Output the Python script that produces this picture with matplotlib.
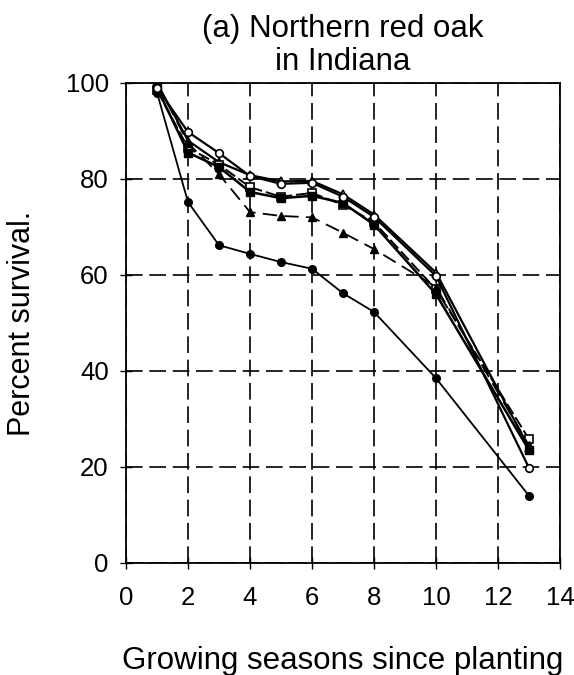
import matplotlib
matplotlib.use("Agg")
import matplotlib.pyplot as plt

plt.rcParams["font.family"] = ["Liberation Sans", "DejaVu Sans"]

seasons = [1, 2, 3, 4, 5, 6, 7, 8, 10, 13]
open_circle = [99, 89.8, 85.4, 80.6, 79, 79.2, 76.3, 72.1, 59.8, 19.8]
open_square = [98.5, 86.5, 83, 78.3, 76.3, 77.1, 74.6, 71, 57, 25.8]
filled_square = [99, 85.5, 82.5, 77.3, 76, 76.5, 75, 70.5, 56, 23.5]
filled_triangle = [100, 87.5, 81, 73.1, 72.3, 72, 68.8, 65.4, 57.5, 24.5]
open_triangle = [100, 88, 83.5, 80.8, 79.5, 79.6, 76.8, 72.6, 60.5, 24]
filled_circle = [98, 75.2, 66.2, 64.4, 62.7, 61.3, 56.2, 52.3, 38.5, 14]

xticks = [0, 2, 4, 6, 8, 10, 12, 14]
yticks = [0, 20, 40, 60, 80, 100]


def main():
    fig = plt.figure(figsize=(5.74, 6.75), dpi=100)
    ax = fig.add_axes([126 / 574, 1 - 563 / 675, 434 / 574, 480 / 675])

    ax.plot(seasons, open_circle, "-", color="black", lw=1.6, marker="o",
            ms=5.5, mfc="white", mec="black", mew=1.2, zorder=5)
    ax.plot(seasons, open_triangle, "-", color="black", lw=1.6, marker="^",
            ms=5.5, mfc="white", mec="black", mew=1.2, zorder=4)
    ax.plot(seasons, open_square, "--", color="black", lw=1.4, marker="s",
            ms=5.5, mfc="white", mec="black", mew=1.2, dashes=(6, 2), zorder=4)
    ax.plot(seasons, filled_square, "-", color="black", lw=1.8, marker="s",
            ms=5.5, mfc="black", mec="black", zorder=4)
    ax.plot(seasons, filled_triangle, "--", color="black", lw=1.3, marker="^",
            ms=5.5, mfc="black", mec="black", dashes=(8, 4), zorder=4)
    ax.plot(seasons, filled_circle, "-", color="black", lw=1.3, marker="o",
            ms=5.5, mfc="black", mec="black", zorder=4)

    ax.set_xlim(0, 14)
    ax.set_ylim(0, 100)
    ax.set_xticks(xticks)
    ax.set_yticks(yticks)
    ax.tick_params(labelsize=18.5, direction="inout", length=9, width=1)
    ax.tick_params(axis="x", pad=12)
    ax.tick_params(axis="y", pad=8)
    ax.grid(True, color="black", linestyle=(0, (10, 4)), linewidth=1.2)
    for s in ax.spines.values():
        s.set_linewidth(1.3)

    ax.set_xlabel("Growing seasons since planting", fontsize=22.5)
    ax.xaxis.set_label_coords(0.5, -0.172)
    ax.set_ylabel("Percent survival.", fontsize=22)
    ax.yaxis.set_label_coords(-0.205, 0.5)
    ax.set_title("(a) Northern red oak\nin Indiana", fontsize=22.5, pad=9,
                 linespacing=1.15)

    fig.savefig("out.png", dpi=100)


if __name__ == "__main__":
    main()
